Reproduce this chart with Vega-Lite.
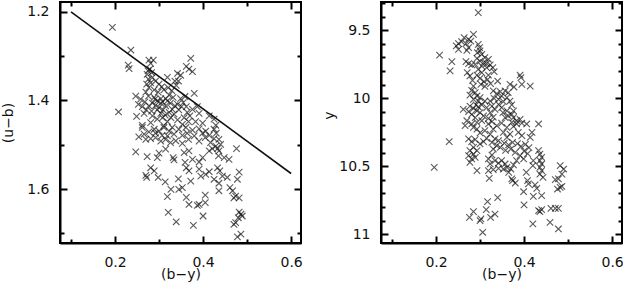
{
  "$schema": "https://vega.github.io/schema/vega-lite/v6.json",
  "padding": {"left": 0, "top": 0, "right": 0, "bottom": 0},
  "spacing": 17,
  "config": {
    "view": {"stroke": "black", "strokeWidth": 2},
    "font": "DejaVu Sans",
    "axis": {
      "grid": false,
      "labelFont": "DejaVu Sans",
      "labelFontSize": 14,
      "labelColor": "#111111",
      "titleFont": "DejaVu Sans",
      "titleFontSize": 14,
      "titleColor": "#111111",
      "titleFontWeight": "normal",
      "labelFlush": false,
      "labelOverlap": false
    }
  },
  "datasets": {
    "L": [
      {"b":0.194,"u":1.235},{"b":0.236,"u":1.286},{"b":0.230,"u":1.320},{"b":0.232,"u":1.328},{"b":0.277,"u":1.309},
      {"b":0.287,"u":1.309},{"b":0.281,"u":1.316},{"b":0.372,"u":1.305},{"b":0.362,"u":1.323},{"b":0.368,"u":1.329},
      {"b":0.376,"u":1.335},{"b":0.342,"u":1.339},{"b":0.349,"u":1.343},{"b":0.319,"u":1.348},{"b":0.336,"u":1.356},
      {"b":0.344,"u":1.356},{"b":0.339,"u":1.366},{"b":0.273,"u":1.341},{"b":0.276,"u":1.352},{"b":0.281,"u":1.360},
      {"b":0.272,"u":1.363},{"b":0.285,"u":1.348},{"b":0.292,"u":1.356},{"b":0.300,"u":1.363},{"b":0.306,"u":1.369},
      {"b":0.277,"u":1.371},{"b":0.289,"u":1.376},{"b":0.298,"u":1.381},{"b":0.311,"u":1.376},{"b":0.321,"u":1.371},
      {"b":0.329,"u":1.378},{"b":0.323,"u":1.388},{"b":0.332,"u":1.393},{"b":0.315,"u":1.396},{"b":0.380,"u":1.384},
      {"b":0.247,"u":1.390},{"b":0.258,"u":1.397},{"b":0.268,"u":1.403},{"b":0.253,"u":1.409},{"b":0.262,"u":1.414},
      {"b":0.271,"u":1.421},{"b":0.266,"u":1.429},{"b":0.249,"u":1.436},{"b":0.208,"u":1.426},{"b":0.289,"u":1.393},
      {"b":0.296,"u":1.401},{"b":0.304,"u":1.406},{"b":0.292,"u":1.411},{"b":0.285,"u":1.406},{"b":0.300,"u":1.416},
      {"b":0.309,"u":1.421},{"b":0.315,"u":1.412},{"b":0.326,"u":1.406},{"b":0.336,"u":1.412},{"b":0.345,"u":1.421},
      {"b":0.323,"u":1.427},{"b":0.334,"u":1.431},{"b":0.355,"u":1.405},{"b":0.362,"u":1.414},{"b":0.349,"u":1.396},
      {"b":0.359,"u":1.391},{"b":0.376,"u":1.420},{"b":0.387,"u":1.414},{"b":0.391,"u":1.429},{"b":0.414,"u":1.435},
      {"b":0.425,"u":1.442},{"b":0.399,"u":1.451},{"b":0.383,"u":1.448},{"b":0.429,"u":1.456},{"b":0.285,"u":1.435},
      {"b":0.296,"u":1.442},{"b":0.308,"u":1.439},{"b":0.281,"u":1.450},{"b":0.319,"u":1.448},{"b":0.342,"u":1.444},
      {"b":0.357,"u":1.439},{"b":0.367,"u":1.448},{"b":0.353,"u":1.454},{"b":0.262,"u":1.456},{"b":0.311,"u":1.457},
      {"b":0.291,"u":1.397},{"b":0.304,"u":1.396},{"b":0.308,"u":1.403},{"b":0.319,"u":1.401},{"b":0.296,"u":1.421},
      {"b":0.304,"u":1.429},{"b":0.314,"u":1.433},{"b":0.327,"u":1.439},{"b":0.330,"u":1.420},{"b":0.342,"u":1.409},
      {"b":0.351,"u":1.414},{"b":0.364,"u":1.427},{"b":0.370,"u":1.435},{"b":0.277,"u":1.412},{"b":0.283,"u":1.424},
      {"b":0.276,"u":1.390},{"b":0.270,"u":1.381},{"b":0.279,"u":1.329},{"b":0.283,"u":1.337},{"b":0.275,"u":1.333},
      {"b":0.262,"u":1.461},{"b":0.289,"u":1.465},{"b":0.300,"u":1.469},{"b":0.311,"u":1.461},{"b":0.323,"u":1.469},
      {"b":0.330,"u":1.461},{"b":0.345,"u":1.465},{"b":0.361,"u":1.461},{"b":0.376,"u":1.467},{"b":0.391,"u":1.464},
      {"b":0.406,"u":1.469},{"b":0.425,"u":1.465},{"b":0.430,"u":1.474},{"b":0.254,"u":1.482},{"b":0.270,"u":1.488},
      {"b":0.281,"u":1.486},{"b":0.292,"u":1.484},{"b":0.304,"u":1.492},{"b":0.315,"u":1.488},{"b":0.326,"u":1.495},
      {"b":0.338,"u":1.491},{"b":0.353,"u":1.497},{"b":0.367,"u":1.488},{"b":0.380,"u":1.480},{"b":0.391,"u":1.492},
      {"b":0.405,"u":1.484},{"b":0.417,"u":1.495},{"b":0.436,"u":1.488},{"b":0.440,"u":1.499},{"b":0.247,"u":1.516},
      {"b":0.273,"u":1.527},{"b":0.296,"u":1.529},{"b":0.300,"u":1.519},{"b":0.315,"u":1.510},{"b":0.332,"u":1.529},
      {"b":0.334,"u":1.534},{"b":0.357,"u":1.518},{"b":0.359,"u":1.540},{"b":0.368,"u":1.514},{"b":0.376,"u":1.533},
      {"b":0.391,"u":1.539},{"b":0.399,"u":1.529},{"b":0.414,"u":1.514},{"b":0.421,"u":1.509},{"b":0.436,"u":1.514},
      {"b":0.435,"u":1.525},{"b":0.448,"u":1.529},{"b":0.459,"u":1.533},{"b":0.476,"u":1.509},{"b":0.281,"u":1.552},
      {"b":0.289,"u":1.559},{"b":0.270,"u":1.569},{"b":0.272,"u":1.574},{"b":0.298,"u":1.574},{"b":0.314,"u":1.584},
      {"b":0.344,"u":1.577},{"b":0.368,"u":1.559},{"b":0.372,"u":1.582},{"b":0.362,"u":1.552},{"b":0.391,"u":1.555},
      {"b":0.395,"u":1.571},{"b":0.406,"u":1.567},{"b":0.414,"u":1.561},{"b":0.425,"u":1.578},{"b":0.433,"u":1.552},
      {"b":0.438,"u":1.559},{"b":0.444,"u":1.571},{"b":0.436,"u":1.587},{"b":0.455,"u":1.574},{"b":0.478,"u":1.578},
      {"b":0.482,"u":1.562},{"b":0.327,"u":1.601},{"b":0.319,"u":1.617},{"b":0.345,"u":1.601},{"b":0.353,"u":1.597},
      {"b":0.362,"u":1.619},{"b":0.368,"u":1.635},{"b":0.387,"u":1.637},{"b":0.391,"u":1.635},{"b":0.405,"u":1.614},
      {"b":0.405,"u":1.631},{"b":0.436,"u":1.604},{"b":0.461,"u":1.597},{"b":0.467,"u":1.604},{"b":0.474,"u":1.616},
      {"b":0.482,"u":1.620},{"b":0.470,"u":1.620},{"b":0.321,"u":1.653},{"b":0.400,"u":1.661},{"b":0.339,"u":1.674},
      {"b":0.378,"u":1.682},{"b":0.482,"u":1.652},{"b":0.486,"u":1.657},{"b":0.489,"u":1.661},{"b":0.480,"u":1.665},
      {"b":0.474,"u":1.676},{"b":0.470,"u":1.680},{"b":0.486,"u":1.702},{"b":0.478,"u":1.708},{"b":0.292,"u":1.474},
      {"b":0.307,"u":1.479},{"b":0.319,"u":1.480},{"b":0.334,"u":1.476},{"b":0.353,"u":1.479},{"b":0.364,"u":1.474},
      {"b":0.399,"u":1.474},{"b":0.414,"u":1.479},{"b":0.425,"u":1.486},{"b":0.429,"u":1.503},{"b":0.433,"u":1.509},
      {"b":0.277,"u":1.471},{"b":0.266,"u":1.476}
    ],
    "LINE": [
      {"b":0.1,"u":1.2},{"b":0.6,"u":1.565}
    ],
    "R": [
      {"b":0.296,"y":9.370},{"b":0.285,"y":9.530},{"b":0.264,"y":9.554},{"b":0.274,"y":9.566},{"b":0.258,"y":9.584},
      {"b":0.251,"y":9.598},{"b":0.246,"y":9.615},{"b":0.268,"y":9.598},{"b":0.279,"y":9.579},{"b":0.251,"y":9.640},
      {"b":0.270,"y":9.647},{"b":0.274,"y":9.628},{"b":0.296,"y":9.603},{"b":0.299,"y":9.628},{"b":0.294,"y":9.665},
      {"b":0.208,"y":9.682},{"b":0.236,"y":9.731},{"b":0.232,"y":9.799},{"b":0.268,"y":9.731},{"b":0.274,"y":9.745},
      {"b":0.281,"y":9.755},{"b":0.293,"y":9.706},{"b":0.300,"y":9.726},{"b":0.308,"y":9.738},{"b":0.311,"y":9.701},
      {"b":0.319,"y":9.713},{"b":0.323,"y":9.755},{"b":0.315,"y":9.775},{"b":0.329,"y":9.775},{"b":0.332,"y":9.804},
      {"b":0.304,"y":9.763},{"b":0.296,"y":9.787},{"b":0.271,"y":9.812},{"b":0.277,"y":9.836},{"b":0.283,"y":9.868},
      {"b":0.293,"y":9.829},{"b":0.300,"y":9.853},{"b":0.309,"y":9.878},{"b":0.317,"y":9.863},{"b":0.324,"y":9.892},
      {"b":0.311,"y":9.912},{"b":0.302,"y":9.897},{"b":0.340,"y":9.873},{"b":0.391,"y":9.829},{"b":0.393,"y":9.848},
      {"b":0.368,"y":9.897},{"b":0.377,"y":9.917},{"b":0.395,"y":9.897},{"b":0.414,"y":9.910},{"b":0.281,"y":9.941},
      {"b":0.289,"y":9.959},{"b":0.293,"y":9.983},{"b":0.285,"y":10.008},{"b":0.296,"y":10.020},{"b":0.291,"y":10.049},
      {"b":0.330,"y":9.946},{"b":0.338,"y":9.966},{"b":0.346,"y":9.951},{"b":0.357,"y":9.946},{"b":0.364,"y":9.959},
      {"b":0.349,"y":9.983},{"b":0.361,"y":9.995},{"b":0.368,"y":10.020},{"b":0.372,"y":10.049},{"b":0.353,"y":10.025},
      {"b":0.342,"y":10.008},{"b":0.332,"y":10.000},{"b":0.262,"y":10.081},{"b":0.277,"y":10.057},{"b":0.285,"y":10.074},
      {"b":0.293,"y":10.093},{"b":0.281,"y":10.118},{"b":0.274,"y":10.098},{"b":0.300,"y":10.106},{"b":0.308,"y":10.130},
      {"b":0.289,"y":10.142},{"b":0.315,"y":10.069},{"b":0.327,"y":10.057},{"b":0.334,"y":10.081},{"b":0.323,"y":10.106},
      {"b":0.330,"y":10.138},{"b":0.319,"y":10.147},{"b":0.349,"y":10.069},{"b":0.361,"y":10.093},{"b":0.372,"y":10.118},
      {"b":0.364,"y":10.130},{"b":0.376,"y":10.142},{"b":0.391,"y":10.155},{"b":0.357,"y":10.142},{"b":0.300,"y":9.652},
      {"b":0.304,"y":9.677},{"b":0.315,"y":9.745},{"b":0.289,"y":9.750},{"b":0.304,"y":9.812},{"b":0.319,"y":9.829},
      {"b":0.285,"y":9.910},{"b":0.277,"y":9.976},{"b":0.300,"y":9.995},{"b":0.311,"y":10.020},{"b":0.323,"y":10.020},
      {"b":0.304,"y":10.049},{"b":0.296,"y":10.064},{"b":0.342,"y":10.044},{"b":0.352,"y":10.106},{"b":0.376,"y":10.093},
      {"b":0.266,"y":10.201},{"b":0.281,"y":10.189},{"b":0.293,"y":10.177},{"b":0.304,"y":10.165},{"b":0.319,"y":10.189},
      {"b":0.327,"y":10.172},{"b":0.338,"y":10.201},{"b":0.270,"y":10.165},{"b":0.285,"y":10.214},{"b":0.372,"y":10.177},
      {"b":0.383,"y":10.189},{"b":0.395,"y":10.182},{"b":0.406,"y":10.189},{"b":0.383,"y":10.165},{"b":0.376,"y":10.206},
      {"b":0.433,"y":10.189},{"b":0.418,"y":10.250},{"b":0.353,"y":10.250},{"b":0.368,"y":10.263},{"b":0.361,"y":10.287},
      {"b":0.387,"y":10.250},{"b":0.395,"y":10.275},{"b":0.230,"y":10.319},{"b":0.274,"y":10.299},{"b":0.281,"y":10.319},
      {"b":0.289,"y":10.304},{"b":0.300,"y":10.336},{"b":0.308,"y":10.319},{"b":0.315,"y":10.294},{"b":0.327,"y":10.324},
      {"b":0.334,"y":10.299},{"b":0.342,"y":10.312},{"b":0.338,"y":10.348},{"b":0.330,"y":10.373},{"b":0.346,"y":10.361},
      {"b":0.355,"y":10.329},{"b":0.365,"y":10.343},{"b":0.374,"y":10.324},{"b":0.385,"y":10.334},{"b":0.393,"y":10.353},
      {"b":0.403,"y":10.339},{"b":0.411,"y":10.363},{"b":0.400,"y":10.388},{"b":0.408,"y":10.407},{"b":0.358,"y":10.383},
      {"b":0.370,"y":10.373},{"b":0.380,"y":10.397},{"b":0.277,"y":10.385},{"b":0.285,"y":10.410},{"b":0.274,"y":10.422},
      {"b":0.281,"y":10.446},{"b":0.277,"y":10.471},{"b":0.289,"y":10.434},{"b":0.319,"y":10.446},{"b":0.327,"y":10.417},
      {"b":0.323,"y":10.483},{"b":0.334,"y":10.459},{"b":0.342,"y":10.476},{"b":0.349,"y":10.459},{"b":0.357,"y":10.483},
      {"b":0.361,"y":10.508},{"b":0.370,"y":10.520},{"b":0.365,"y":10.544},{"b":0.293,"y":10.532},{"b":0.319,"y":10.532},
      {"b":0.321,"y":10.589},{"b":0.372,"y":10.593},{"b":0.380,"y":10.623},{"b":0.374,"y":10.606},{"b":0.196,"y":10.508},
      {"b":0.433,"y":10.385},{"b":0.436,"y":10.410},{"b":0.440,"y":10.434},{"b":0.436,"y":10.459},{"b":0.440,"y":10.483},
      {"b":0.436,"y":10.508},{"b":0.440,"y":10.532},{"b":0.436,"y":10.557},{"b":0.443,"y":10.581},{"b":0.421,"y":10.459},
      {"b":0.420,"y":10.495},{"b":0.405,"y":10.544},{"b":0.408,"y":10.606},{"b":0.410,"y":10.630},{"b":0.399,"y":10.687},
      {"b":0.421,"y":10.721},{"b":0.440,"y":10.716},{"b":0.429,"y":10.662},{"b":0.425,"y":10.637},{"b":0.482,"y":10.495},
      {"b":0.490,"y":10.520},{"b":0.486,"y":10.557},{"b":0.478,"y":10.593},{"b":0.471,"y":10.598},{"b":0.476,"y":10.667},
      {"b":0.482,"y":10.655},{"b":0.486,"y":10.647},{"b":0.400,"y":10.784},{"b":0.433,"y":10.826},{"b":0.436,"y":10.834},
      {"b":0.440,"y":10.819},{"b":0.461,"y":10.809},{"b":0.471,"y":10.809},{"b":0.478,"y":10.809},{"b":0.317,"y":10.760},
      {"b":0.340,"y":10.731},{"b":0.285,"y":10.834},{"b":0.276,"y":10.875},{"b":0.314,"y":10.819},{"b":0.334,"y":10.851},
      {"b":0.324,"y":10.875},{"b":0.300,"y":10.900},{"b":0.302,"y":10.887},{"b":0.306,"y":10.985},{"b":0.420,"y":10.924},
      {"b":0.459,"y":10.912},{"b":0.478,"y":10.961},{"b":0.293,"y":10.226},{"b":0.300,"y":10.255},{"b":0.311,"y":10.238},
      {"b":0.323,"y":10.263},{"b":0.330,"y":10.226},{"b":0.361,"y":10.214},{"b":0.349,"y":10.182},{"b":0.414,"y":10.287},
      {"b":0.391,"y":10.422},{"b":0.399,"y":10.446},{"b":0.383,"y":10.459},{"b":0.376,"y":10.490},{"b":0.353,"y":10.520},
      {"b":0.342,"y":10.515},{"b":0.330,"y":10.525},{"b":0.285,"y":10.361},{"b":0.293,"y":10.385}
    ]
  },
  "hconcat": [
    {
      "width": 241,
      "height": 241,
      "layer": [
        {
          "data": {"name": "L"},
          "mark": {"type": "point", "shape": "M-1,-1L1,1M-1,1L1,-1", "size": 42, "filled": false, "stroke": "#151515", "strokeWidth": 1.1},
          "encoding": {
            "x": {"field": "b", "type": "quantitative",
              "scale": {"domain": [0.075, 0.6225], "nice": false, "zero": false},
              "axis": {"orient": "bottom", "values": [0.2, 0.4, 0.6], "format": ".1f", "ticks": false, "domain": true, "domainColor": "black", "domainWidth": 2,
                "labelPadding": 12, "title": "(b−y)", "titleY": 35, "titleBaseline": "alphabetic"}},
            "y": {"field": "u", "type": "quantitative",
              "scale": {"domain": [1.1775, 1.722], "reverse": true, "nice": false, "zero": false},
              "axis": {"orient": "left", "values": [1.2, 1.4, 1.6], "format": ".1f", "ticks": false, "domain": true, "domainColor": "black", "domainWidth": 2,
                "labelPadding": 11, "labelBaseline": "middle", "title": "(u−b)", "titleX": -48, "titleY": 120.5, "titleAngle": 270,
                "titleBaseline": "alphabetic", "titleAlign": "center"}}
          }
        },
        {
          "data": {"name": "LINE"},
          "mark": {"type": "line", "color": "#111111", "strokeWidth": 1.6},
          "encoding": {
            "x": {"field": "b", "type": "quantitative",
              "axis": {"orient": "bottom", "values": [0.2, 0.4, 0.6], "labels": false, "title": null, "domain": false, "tickColor": "black", "tickWidth": 2, "tickSize": 7, "offset": -7}},
            "y": {"field": "u", "type": "quantitative",
              "axis": {"orient": "left", "values": [1.2, 1.4, 1.6], "labels": false, "title": null, "domain": false, "tickColor": "black", "tickWidth": 2, "tickSize": 7, "offset": -7}}
          }
        },
        {
          "data": {"name": "LINE"},
          "mark": {"type": "point", "opacity": 0},
          "encoding": {
            "x": {"field": "b", "type": "quantitative",
              "axis": {"orient": "bottom", "values": [0.1, 0.3, 0.5], "labels": false, "title": null, "domain": false, "tickColor": "black", "tickWidth": 2, "tickSize": 4, "offset": -4}},
            "y": {"field": "u", "type": "quantitative",
              "axis": {"orient": "left", "values": [1.3, 1.5, 1.7], "labels": false, "title": null, "domain": false, "tickColor": "black", "tickWidth": 2, "tickSize": 4, "offset": -4}}
          }
        },
        {
          "data": {"name": "LINE"},
          "mark": {"type": "point", "opacity": 0},
          "encoding": {
            "x": {"field": "b", "type": "quantitative",
              "axis": {"orient": "top", "values": [0.2, 0.4, 0.6], "labels": false, "title": null, "domain": false, "tickColor": "black", "tickWidth": 2, "tickSize": 7, "offset": -7}},
            "y": {"field": "u", "type": "quantitative",
              "axis": {"orient": "right", "values": [1.2, 1.4, 1.6], "labels": false, "title": null, "domain": false, "tickColor": "black", "tickWidth": 2, "tickSize": 7, "offset": -7}}
          }
        },
        {
          "data": {"name": "LINE"},
          "mark": {"type": "point", "opacity": 0},
          "encoding": {
            "x": {"field": "b", "type": "quantitative",
              "axis": {"orient": "top", "values": [0.1, 0.3, 0.5], "labels": false, "title": null, "domain": false, "tickColor": "black", "tickWidth": 2, "tickSize": 4, "offset": -4}},
            "y": {"field": "u", "type": "quantitative",
              "axis": {"orient": "right", "values": [1.3, 1.5, 1.7], "labels": false, "title": null, "domain": false, "tickColor": "black", "tickWidth": 2, "tickSize": 4, "offset": -4}}
          }
        }
      ],
      "resolve": {"axis": {"x": "independent", "y": "independent"}}
    },
    {
      "width": 241,
      "height": 241,
      "layer": [
        {
          "data": {"name": "R"},
          "mark": {"type": "point", "shape": "M-1,-1L1,1M-1,1L1,-1", "size": 42, "filled": false, "stroke": "#151515", "strokeWidth": 1.1},
          "encoding": {
            "x": {"field": "b", "type": "quantitative",
              "scale": {"domain": [0.075, 0.6225], "nice": false, "zero": false},
              "axis": {"orient": "bottom", "values": [0.2, 0.4, 0.6], "format": ".1f", "ticks": false, "domain": true, "domainColor": "black", "domainWidth": 2,
                "labelPadding": 12, "title": "(b−y)", "titleY": 35, "titleBaseline": "alphabetic"}},
            "y": {"field": "y", "type": "quantitative",
              "scale": {"domain": [9.292, 11.064], "reverse": true, "nice": false, "zero": false},
              "axis": {"orient": "left", "values": [9.5, 10, 10.5, 11], "format": "~g", "ticks": false, "domain": true, "domainColor": "black", "domainWidth": 2,
                "labelPadding": 11, "labelBaseline": "middle", "title": "y", "titleX": -48, "titleY": 113, "titleAngle": 270,
                "titleBaseline": "alphabetic", "titleAlign": "center"}}
          }
        },
        {
          "data": {"name": "R"},
          "mark": {"type": "point", "opacity": 0},
          "encoding": {
            "x": {"field": "b", "type": "quantitative",
              "axis": {"orient": "bottom", "values": [0.2, 0.4, 0.6], "labels": false, "title": null, "domain": false, "tickColor": "black", "tickWidth": 2, "tickSize": 7, "offset": -7}},
            "y": {"field": "y", "type": "quantitative",
              "axis": {"orient": "left", "values": [9.5, 10, 10.5, 11], "labels": false, "title": null, "domain": false, "tickColor": "black", "tickWidth": 2, "tickSize": 7, "offset": -7}}
          }
        },
        {
          "data": {"name": "R"},
          "mark": {"type": "point", "opacity": 0},
          "encoding": {
            "x": {"field": "b", "type": "quantitative",
              "axis": {"orient": "bottom", "values": [0.1, 0.3, 0.5], "labels": false, "title": null, "domain": false, "tickColor": "black", "tickWidth": 2, "tickSize": 4, "offset": -4}},
            "y": {"field": "y", "type": "quantitative",
              "axis": {"orient": "left", "values": [9.3, 9.4, 9.6, 9.7, 9.8, 9.9, 10.1, 10.2, 10.3, 10.4, 10.6, 10.7, 10.8, 10.9], "labels": false, "title": null, "domain": false, "tickColor": "black", "tickWidth": 2, "tickSize": 4, "offset": -4}}
          }
        },
        {
          "data": {"name": "R"},
          "mark": {"type": "point", "opacity": 0},
          "encoding": {
            "x": {"field": "b", "type": "quantitative",
              "axis": {"orient": "top", "values": [0.2, 0.4, 0.6], "labels": false, "title": null, "domain": false, "tickColor": "black", "tickWidth": 2, "tickSize": 7, "offset": -7}},
            "y": {"field": "y", "type": "quantitative",
              "axis": {"orient": "right", "values": [9.5, 10, 10.5, 11], "labels": false, "title": null, "domain": false, "tickColor": "black", "tickWidth": 2, "tickSize": 7, "offset": -7}}
          }
        },
        {
          "data": {"name": "R"},
          "mark": {"type": "point", "opacity": 0},
          "encoding": {
            "x": {"field": "b", "type": "quantitative",
              "axis": {"orient": "top", "values": [0.1, 0.3, 0.5], "labels": false, "title": null, "domain": false, "tickColor": "black", "tickWidth": 2, "tickSize": 4, "offset": -4}},
            "y": {"field": "y", "type": "quantitative",
              "axis": {"orient": "right", "values": [9.3, 9.4, 9.6, 9.7, 9.8, 9.9, 10.1, 10.2, 10.3, 10.4, 10.6, 10.7, 10.8, 10.9], "labels": false, "title": null, "domain": false, "tickColor": "black", "tickWidth": 2, "tickSize": 4, "offset": -4}}
          }
        }
      ],
      "resolve": {"axis": {"x": "independent", "y": "independent"}}
    }
  ]
}
